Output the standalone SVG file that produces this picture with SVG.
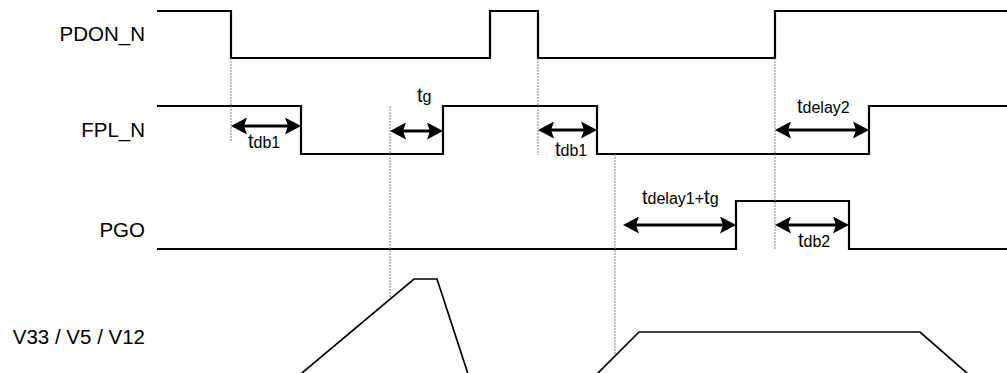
<svg xmlns="http://www.w3.org/2000/svg" width="1007" height="373" viewBox="0 0 1007 373">
<style>
.lbl{font-family:"Liberation Sans",Arial,sans-serif;font-size:20.5px;fill:#000;text-anchor:end}
.tl{font-family:"Liberation Sans",Arial,sans-serif;fill:#000}
.tb{font-size:20px}
.ts{font-size:16px}
.sig{fill:none;stroke:#000;stroke-width:2.2;stroke-linejoin:miter}
.rail{fill:none;stroke:#000;stroke-width:1.7}
.guide{stroke:#808080;stroke-width:1;stroke-dasharray:2 1;fill:none}
.dim{stroke:#000;stroke-width:2.8;fill:none;marker-start:url(#ah);marker-end:url(#ah)}
</style>
<defs>
<marker id="ah" viewBox="0 0 16 17" refX="11" refY="8.5" markerWidth="16" markerHeight="17" markerUnits="userSpaceOnUse" orient="auto-start-reverse">
<path d="M0,0 L16,8.5 L0,17 L3,8.5 z" fill="#000"/>
</marker>
</defs>
<rect width="1007" height="373" fill="#fff"/>

<g id="pdon_n">
<text class="lbl" x="145" y="41">PDON_N</text>
<polyline class="sig" points="157,11 231,11 231,58 490,58 490,11 538,11 538,58 775,58 775,11 1008,11"/>
</g>
<g id="fpl_n">
<text class="lbl" x="145" y="137">FPL_N</text>
<polyline class="sig" points="157,106 301,106 301,154 443,154 443,106 597,106 597,154 869,154 869,106 1008,106"/>
</g>
<g id="pgo">
<text class="lbl" x="145" y="237">PGO</text>
<polyline class="sig" points="157,249 736,249 736,201 849,201 849,249 1008,249"/>
</g>
<g id="v33">
<text class="lbl" x="145" y="344">V33 / V5 / V12</text>
<polyline class="rail" points="296,378 414,279 437,279 470,380"/>
<polyline class="rail" points="593,378 639,332 920,332 968,374"/>
</g>

<g id="connectors">
<line class="guide" x1="231" y1="58" x2="231" y2="141"/>
<line class="guide" x1="390" y1="106" x2="390" y2="298"/>
<line class="guide" x1="538" y1="58" x2="538" y2="155"/>
<line class="guide" x1="615" y1="154" x2="615" y2="355"/>
<line class="guide" x1="775" y1="58" x2="775" y2="249"/>

<line class="dim" x1="236" y1="126" x2="296" y2="126"/>
<line class="dim" x1="395" y1="131" x2="438" y2="131"/>
<line class="dim" x1="543" y1="130" x2="592" y2="130"/>
<line class="dim" x1="780" y1="130" x2="864" y2="130"/>
<line class="dim" x1="628" y1="225" x2="731" y2="225"/>
<line class="dim" x1="780" y1="225" x2="844" y2="225"/>

<text class="tl" x="248" y="148"><tspan class="tb">t</tspan><tspan class="ts">db1</tspan></text>
<text class="tl" x="417" y="102"><tspan class="tb">t</tspan><tspan class="ts">g</tspan></text>
<text class="tl" x="555" y="156"><tspan class="tb">t</tspan><tspan class="ts">db1</tspan></text>
<text class="tl" x="797" y="113"><tspan class="tb">t</tspan><tspan class="ts">delay2</tspan></text>
<text class="tl" x="642" y="204"><tspan class="tb">t</tspan><tspan class="ts">delay1+</tspan><tspan class="tb">t</tspan><tspan class="ts">g</tspan></text>
<text class="tl" x="798" y="247"><tspan class="tb">t</tspan><tspan class="ts">db2</tspan></text>
</g>
</svg>
